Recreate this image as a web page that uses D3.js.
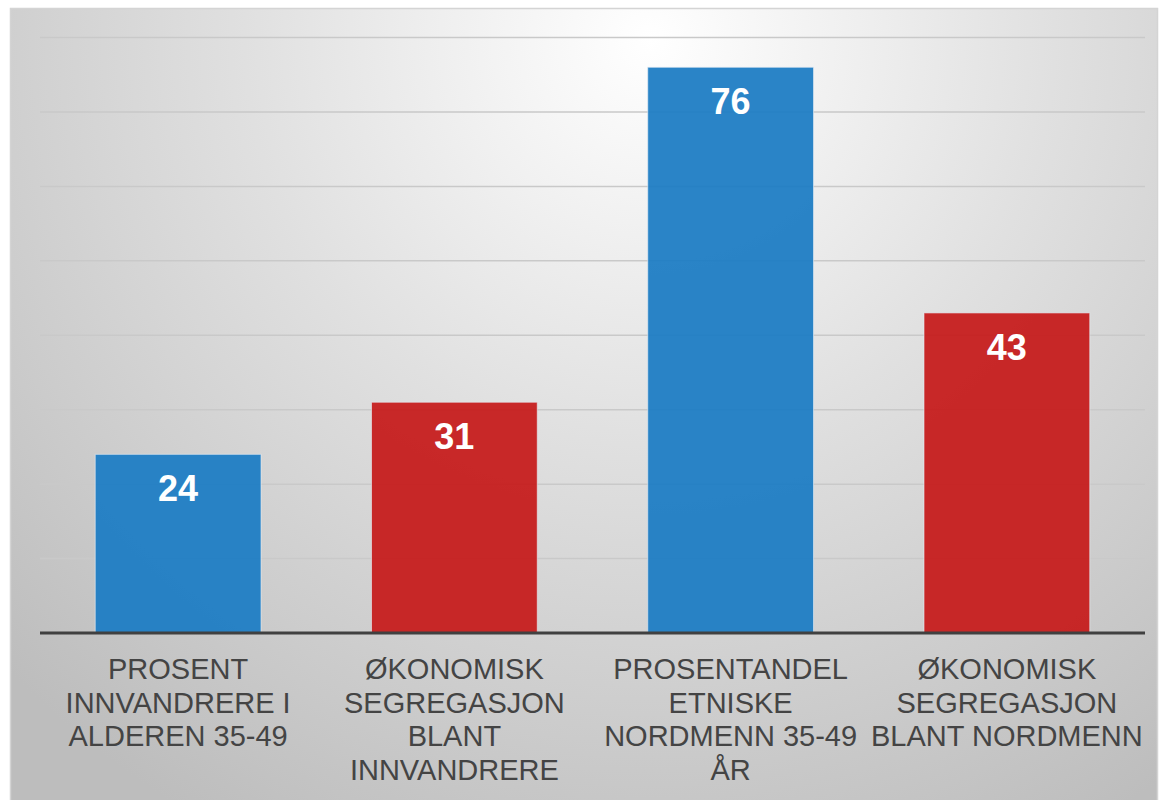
<!DOCTYPE html>
<html><head><meta charset="utf-8">
<script src="https://cdn.jsdelivr.net/npm/d3@7"></script>
<style>body{margin:0;background:#fff}svg{display:block}</style>
</head><body>
<svg id="c" width="1161" height="800"></svg>
<script>
const categories = [
  ["PROSENT","INNVANDRERE I","ALDEREN 35-49"],
  ["ØKONOMISK","SEGREGASJON","BLANT","INNVANDRERE"],
  ["PROSENTANDEL","ETNISKE","NORDMENN 35-49","ÅR"],
  ["ØKONOMISK","SEGREGASJON","BLANT NORDMENN"]
];
const values = [24, 31, 76, 43];
const barColors = ["#1f7dc4", "#c61e1e", "#1f7dc4", "#c61e1e"];
const yTicks = [0,10,20,30,40,50,60,70,80];

(function(){
const svg = d3.select("#c");
const defs = svg.append("defs");
const rg = defs.append("radialGradient").attr("id","bg")
  .attr("gradientUnits","userSpaceOnUse").attr("cx",650).attr("cy",40).attr("r",900);
rg.append("stop").attr("offset","0").attr("stop-color","#ffffff");
rg.append("stop").attr("offset","0.45").attr("stop-color","#e0e0e0");
rg.append("stop").attr("offset","1").attr("stop-color","#bdbdbd");

svg.append("rect").attr("x",10.5).attr("y",8.5).attr("width",1147).attr("height",795)
  .attr("fill","url(#bg)").attr("stroke","#d4d4d4").attr("stroke-width",1.5);

const pl=40, pr=1145, pt=37.5, pb=633;
const x = d3.scaleBand().domain(d3.range(values.length)).range([pl,pr]).paddingInner(0.4).paddingOuter(0.2);
const y = d3.scaleLinear().domain([0,80]).range([pb, pt]);

svg.append("g").selectAll("line").data(yTicks.filter(d=>d>0)).join("line")
  .attr("x1",pl).attr("x2",pr).attr("y1",d=>y(d)).attr("y2",d=>y(d))
  .attr("stroke","#c9c9c9").attr("stroke-width",1.5);

svg.append("g").selectAll("rect").data(values).join("rect")
  .attr("x",(d,i)=>x(i)).attr("width",x.bandwidth())
  .attr("y",d=>y(d)).attr("height",d=>y(0)-y(d))
  .attr("fill",(d,i)=>barColors[i]).attr("fill-opacity",0.95)
  .attr("stroke","#e8eef5").attr("stroke-opacity",0.6).attr("stroke-width",1);

svg.append("g").selectAll("text").data(values).join("text")
  .attr("x",(d,i)=>x(i)+x.bandwidth()/2).attr("y",d=>y(d)+47)
  .attr("text-anchor","middle").attr("fill","#fff")
  .attr("font-family","'Liberation Sans', Arial, sans-serif").attr("font-weight","bold")
  .attr("font-size",36).text(d=>d);

svg.append("line").attr("x1",pl).attr("x2",pr).attr("y1",pb).attr("y2",pb)
  .attr("stroke","#404040").attr("stroke-width",3);

const lab = svg.append("g").attr("font-family","'Liberation Sans', Arial, sans-serif")
  .attr("font-size",29).attr("fill","#444444").attr("text-anchor","middle");
categories.forEach((lines,i)=>{
  const t = lab.append("text").attr("x",x(i)+x.bandwidth()/2);
  lines.forEach((l,j)=>{
    t.append("tspan").attr("x",x(i)+x.bandwidth()/2).attr("y",679+j*33.5).text(l);
  });
});
})();
</script>
</body></html>
